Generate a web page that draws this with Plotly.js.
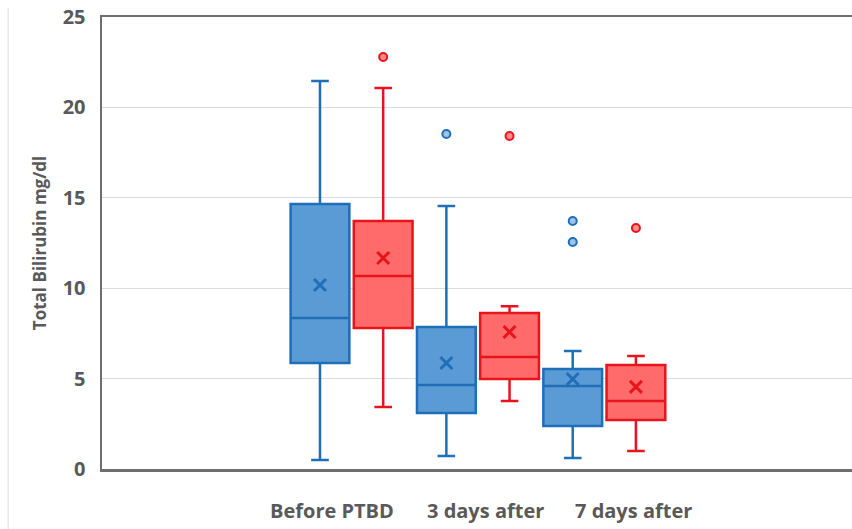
<!DOCTYPE html>
<html>
<head>
<meta charset="utf-8">
<script src="https://cdn.plot.ly/plotly-3.0.1.min.js"></script>
<style>html,body{margin:0;padding:0;background:#fff;}#chart{width:852px;height:529px;}</style>
</head>
<body>
<div id="chart"></div>
<script>
// ---- data ----
const groups = ['Before PTBD', '3 days after', '7 days after'];
const seriesNames = ['Series 1', 'Series 2'];

// Series 1 (blue)
const blueLower  = [0.5, 0.72, 0.61];
const blueQ1     = [5.86, 3.1, 2.38];
const blueMedian = [8.35, 4.65, 4.59];
const blueQ3     = [14.66, 7.85, 5.53];
const blueUpper  = [21.46, 14.55, 6.53];
const blueMean   = [10.18, 5.86, 4.98];
const blueOutlierGroup = ['3 days after', '7 days after', '7 days after'];
const blueOutlierValue = [18.53, 13.72, 12.56];

// Series 2 (red)
const redLower  = [3.43, 3.76, 1.0];
const redQ1     = [7.8, 4.98, 2.71];
const redMedian = [10.67, 6.19, 3.76];
const redQ3     = [13.72, 8.63, 5.75];
const redUpper  = [21.07, 9.0, 6.25];
const redMean   = [11.67, 7.58, 4.54];
const redOutlierGroup = ['Before PTBD', '3 days after', '7 days after'];
const redOutlierValue = [22.79, 18.42, 13.33];

const yTicks = [0, 5, 10, 15, 20, 25];
const yTitle = 'Total Bilirubin mg/dl';

// ---- build ----
const slot = (g, s) => g + ' · ' + s;
const slotsA = groups.map(g => slot(g, seriesNames[0]));
const slotsB = groups.map(g => slot(g, seriesNames[1]));
const order = [];
groups.forEach(g => { order.push(slot(g, seriesNames[0])); order.push(slot(g, seriesNames[1])); });

const BLUE_FILL = '#5b9bd5', BLUE_LINE = '#1f6fb8';
const RED_FILL = '#ff6b6b', RED_LINE = '#e8141c';

function boxTrace(x, lo, q1, med, q3, up, fill, line, name) {
  return {
    type: 'box', name: name, x: x,
    lowerfence: lo, q1: q1, median: med, q3: q3, upperfence: up,
    boxpoints: false, width: 0.93, whiskerwidth: 0.3,
    fillcolor: fill, line: {color: line, width: 2.5},
    showlegend: false, hoverinfo: 'skip'
  };
}
function meanTrace(x, y, color) {
  return {
    type: 'scatter', mode: 'markers', x: x, y: y,
    marker: {symbol: 'x-thin', size: 12, line: {color: color, width: 3}},
    showlegend: false, hoverinfo: 'skip'
  };
}
function outlierTrace(x, y, fill, line) {
  return {
    type: 'scatter', mode: 'markers', x: x, y: y,
    marker: {symbol: 'circle', size: 8, color: fill, line: {color: line, width: 2}},
    showlegend: false, hoverinfo: 'skip'
  };
}

const traces = [
  boxTrace(slotsA, blueLower, blueQ1, blueMedian, blueQ3, blueUpper, BLUE_FILL, BLUE_LINE, seriesNames[0]),
  boxTrace(slotsB, redLower, redQ1, redMedian, redQ3, redUpper, RED_FILL, RED_LINE, seriesNames[1]),
  meanTrace(slotsA, blueMean, BLUE_LINE),
  meanTrace(slotsB, redMean, RED_LINE),
  outlierTrace(blueOutlierGroup.map(g => slot(g, seriesNames[0])), blueOutlierValue, '#9dc3e6', BLUE_LINE),
  outlierTrace(redOutlierGroup.map(g => slot(g, seriesNames[1])), redOutlierValue, '#ff8a8a', RED_LINE)
];

const FONT = 'Open Sans, Lato, sans-serif';
const labelX = [0.307, 0.511, 0.709];

const layout = {
  width: 852, height: 529,
  margin: {l: 102, r: 0, t: 17, b: 60},
  paper_bgcolor: '#ffffff', plot_bgcolor: '#ffffff',
  showlegend: false,
  font: {family: FONT, color: '#595959'},
  xaxis: {
    type: 'category', categoryorder: 'array', categoryarray: order,
    range: [-3.45, 8.42], showticklabels: false, ticks: '',
    showgrid: false, zeroline: false,
    showline: true, mirror: true, linecolor: '#6e6e6e', linewidth: 2.5
  },
  yaxis: {
    range: [0, 25], tickvals: yTicks, ticktext: yTicks.map(String),
    showgrid: true, gridcolor: '#dcdcdc', gridwidth: 1.2,
    zeroline: false, showline: true, linecolor: '#6e6e6e', linewidth: 2.5,
    ticks: '', ticklabelstandoff: 10,
    tickfont: {family: FONT, size: 20, color: '#595959', weight: 'bold'},
    title: {text: yTitle, standoff: 12, font: {family: FONT, size: 17, color: '#595959', weight: 'bold'}}
  },
  annotations: groups.map((g, i) => ({
    text: g, xref: 'paper', yref: 'paper', x: labelX[i], y: 0,
    xanchor: 'center', yanchor: 'middle', yshift: -41, showarrow: false,
    font: {family: FONT, size: 20, color: '#595959', weight: 'bold'}
  })),
  shapes: [{
    type: 'line', xref: 'paper', yref: 'paper',
    x0: -0.125, x1: -0.125, y0: -0.14, y1: 1.02,
    line: {color: '#e6e6e6', width: 1.5}
  }]
};

Plotly.newPlot('chart', traces, layout, {staticPlot: true, displayModeBar: false});
</script>
</body>
</html>
